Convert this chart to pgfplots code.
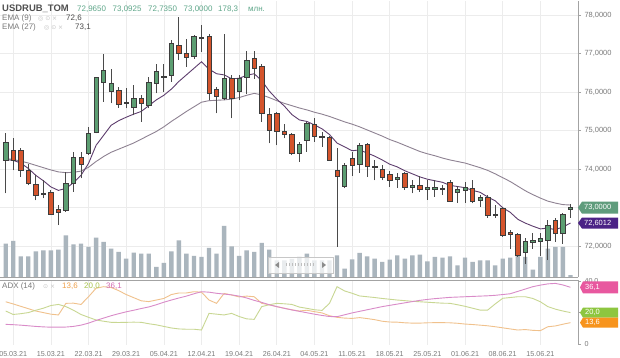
\documentclass[border=0pt]{standalone}
\usepackage{pgfplots}
\pgfplotsset{compat=1.18}
\usepackage{pgfplotstable}
\usepackage{fontspec}
\setmainfont{Liberation Sans}
\newfontfamily\symf{DejaVu Sans}

\definecolor{gridc}{HTML}{ECECEC}
\definecolor{axisc}{HTML}{A3A3A3}
\definecolor{tickc}{HTML}{7A7A7A}
\definecolor{upg}{HTML}{5C9E72}
\definecolor{dnr}{HTML}{D4542C}
\definecolor{outc}{HTML}{3C3C3C}
\definecolor{wickc}{HTML}{4A4A4A}
\definecolor{emaA}{HTML}{5E3E6E}
\definecolor{emaB}{HTML}{8E8292}
\definecolor{volc}{HTML}{AAB5BD}
\definecolor{boxg}{HTML}{5F9C7C}
\definecolor{boxp}{HTML}{4B2386}
\definecolor{adxc}{HTML}{D98BC8}
\definecolor{mdic}{HTML}{C8D792}
\definecolor{pdic}{HTML}{F0C18C}
\definecolor{adxL}{HTML}{D36BB3}
\definecolor{mdiL}{HTML}{A9C44E}
\definecolor{pdiL}{HTML}{EFA04A}
\definecolor{boxpink}{HTML}{E8589F}
\definecolor{boxgreen}{HTML}{8DC63F}
\definecolor{boxorange}{HTML}{F7941D}
\definecolor{titlec}{HTML}{505050}
\definecolor{valc}{HTML}{5FA78A}
\definecolor{iconc}{HTML}{C4C4C4}

\pgfdeclareplotmark{candle}{%
  \pgfscope
  \pgfkeys{/pgf/fpu=false}%
  \pgfmathsetmacro\cBody{38.5*(\candC-\candO)}%
  \pgfmathsetmacro\cLow{38.5*(\candL-\candO)}%
  \pgfmathsetmacro\cHigh{38.5*(\candH-\candO)}%
  \pgfsetstrokecolor{wickc}\pgfsetlinewidth{0.9bp}%
  \pgfpathmoveto{\pgfpoint{0bp}{\cLow bp}}%
  \pgfpathlineto{\pgfpoint{0bp}{\cHigh bp}}%
  \pgfusepathqstroke
  \pgfmathparse{\candC<\candO}%
  \ifdim\pgfmathresult pt>0.5pt\pgfsetfillcolor{dnr}\else\pgfsetfillcolor{upg}\fi
  \pgfsetstrokecolor{outc}\pgfsetlinewidth{0.6bp}%
  \pgfpathrectangle{\pgfpoint{-2.2bp}{0bp}}{\pgfpoint{4.4bp}{\cBody bp}}%
  \pgfusepathqfillstroke
  \endpgfscope
}

\pgfplotstableread{
i o h l c v e9 e27 adx pdi mdi
0 74.23 74.93 73.37 74.71 3330 74.25 74.28 12.5 26.9 21.0
1 74.49 74.80 73.97 74.22 3600 74.23 74.25 12.3 25.5 18.8
2 74.49 74.54 73.80 73.96 2070 74.16 74.21 12.0 24.0 19.3
3 73.97 74.13 73.58 73.63 2070 74.02 74.16 11.6 22.5 20.0
4 73.61 73.84 73.19 73.31 2570 73.84 74.10 11.2 21.0 21.5
5 73.37 73.71 73.24 73.34 2670 73.70 74.04 10.9 20.0 22.8
6 73.39 73.45 72.81 72.82 2670 73.54 73.98 10.7 19.0 24.5
7 72.95 73.06 72.55 72.87 2730 73.45 73.93 10.7 18.5 25.2
8 72.94 73.93 72.89 73.63 4170 73.50 73.91 10.8 25.9 23.8
9 73.63 74.45 73.41 74.30 3270 73.65 73.92 11.2 26.0 21.5
10 74.30 74.45 73.76 74.13 3330 73.84 73.95 12.0 25.2 18.8
11 74.41 75.10 74.38 74.94 3000 74.15 74.05 13.3 30.1 17.0
12 74.97 76.40 74.93 76.38 3930 74.62 74.20 15.0 35.5 15.3
13 76.27 77.00 75.75 76.57 3500 74.88 74.33 16.5 36.5 14.5
14 76.03 76.61 75.71 76.23 2830 75.14 74.44 18.0 36.0 13.8
15 76.05 76.14 75.60 75.69 2500 75.26 74.52 19.3 34.0 13.7
16 75.75 76.10 75.58 75.71 1830 75.35 74.60 20.5 31.5 13.8
17 75.60 76.18 75.40 75.83 2430 75.43 74.68 21.5 29.5 13.9
18 75.83 75.92 75.23 75.72 2330 75.50 74.78 22.6 27.5 13.8
19 75.66 76.40 75.58 76.27 2330 75.65 74.88 23.6 27.0 12.9
20 76.23 76.74 75.97 76.55 1000 75.80 74.98 25.0 28.0 12.2
21 76.38 76.74 76.01 76.41 1400 75.92 75.10 26.6 29.0 11.2
22 76.44 77.35 76.27 77.28 2570 76.08 75.24 28.0 31.5 10.2
23 77.22 77.96 76.83 77.00 3670 76.28 75.37 29.3 32.5 9.6
24 77.00 77.39 76.66 76.90 2330 76.45 75.50 30.5 32.5 9.4
25 76.92 77.48 76.87 77.44 2100 76.62 75.62 32.0 33.3 9.4
26 77.39 77.74 77.05 77.42 2000 76.79 75.74 33.3 33.0 8.9
27 77.45 77.52 75.79 75.97 2900 76.60 75.78 33.0 28.0 19.5
28 76.07 76.14 75.45 75.90 2330 76.48 75.79 32.3 25.9 19.0
29 75.84 77.52 75.79 76.35 5100 76.45 75.80 31.8 32.2 18.5
30 76.35 76.44 75.32 75.84 3070 76.35 75.82 31.3 31.2 19.5
31 76.03 76.44 75.79 76.35 2100 76.36 75.86 30.5 30.0 17.5
32 76.38 77.07 75.95 76.83 2670 76.44 75.92 29.3 30.5 16.0
33 76.87 77.07 76.35 76.61 2500 76.48 75.97 27.8 30.1 15.7
34 76.68 76.74 75.23 75.45 3400 76.30 75.93 26.5 25.9 23.8
35 75.43 75.58 74.67 75.01 2730 76.03 75.86 25.0 25.0 25.0
36 75.46 75.49 74.62 74.99 1670 75.82 75.78 23.8 23.8 25.9
37 74.99 75.17 74.80 74.91 1670 75.64 75.71 22.7 22.8 25.6
38 74.91 74.93 74.36 74.41 1800 75.42 75.65 21.7 21.8 25.2
39 74.42 74.71 74.19 74.65 2000 75.28 75.59 20.8 21.0 23.5
40 74.75 75.23 74.45 75.20 2330 75.24 75.54 19.9 21.5 22.7
41 75.17 75.34 74.71 74.86 1670 75.15 75.48 19.0 20.6 21.8
42 74.86 74.97 74.58 74.82 1670 75.05 75.43 18.2 19.8 21.4
43 74.84 74.86 74.22 74.23 1670 74.90 75.37 17.5 18.0 25.9
44 73.97 74.54 71.98 73.82 2170 74.68 75.30 17.4 17.0 36.5
45 73.56 74.16 73.50 74.10 830 74.58 75.23 18.6 16.5 33.8
46 74.28 74.45 73.82 74.10 1770 74.48 75.17 19.8 16.3 32.3
47 74.13 74.67 73.91 74.62 2400 74.50 75.10 20.8 16.8 30.6
48 74.65 74.67 73.80 74.08 2070 74.42 75.02 21.8 16.2 30.1
49 74.08 74.23 73.71 74.04 1830 74.34 74.94 22.8 15.5 29.6
50 73.99 74.10 73.71 73.80 1500 74.24 74.86 23.8 14.5 29.0
51 73.86 73.96 73.54 73.71 1730 74.13 74.77 24.6 14.0 28.5
52 73.73 73.89 73.52 73.80 2170 74.06 74.70 25.4 13.9 28.0
53 73.89 73.93 73.46 73.52 1830 73.96 74.62 26.2 13.5 27.6
54 73.54 73.71 73.37 73.58 2170 73.88 74.54 27.0 13.3 27.2
55 73.58 73.82 73.41 73.47 2230 73.80 74.46 27.8 13.3 26.9
56 73.49 73.71 73.21 73.52 1570 73.74 74.40 28.4 13.5 26.6
57 73.49 73.71 73.28 73.52 2000 73.70 74.35 28.9 13.6 26.3
58 73.47 73.58 73.33 73.50 1930 73.66 74.29 29.3 13.6 26.0
59 73.67 73.71 73.15 73.17 2070 73.58 74.24 29.7 13.5 25.9
60 73.39 73.56 73.13 73.47 1170 73.55 74.20 29.9 13.2 25.0
61 73.45 73.67 73.13 73.52 1930 73.52 74.16 30.1 12.7 24.0
62 73.50 73.71 73.11 73.17 1500 73.45 74.10 30.3 12.4 22.8
63 73.20 73.32 73.02 73.26 1670 73.40 74.04 30.5 12.0 21.6
64 73.26 73.32 72.74 72.80 1670 73.28 73.97 30.7 11.6 21.6
65 72.82 73.07 72.74 72.79 1170 73.18 73.88 31.0 11.0 25.5
66 72.98 73.02 72.24 72.29 1830 73.00 73.78 31.5 10.3 29.1
67 72.35 72.42 71.94 72.31 1930 72.88 73.68 32.0 9.6 29.6
68 72.31 72.33 71.72 71.77 2500 72.70 73.56 33.5 8.9 30.1
69 71.83 72.20 71.55 72.14 2000 72.60 73.44 35.0 9.2 30.1
70 72.11 72.35 71.94 72.16 730 72.52 73.34 36.5 8.7 29.0
71 72.14 72.33 71.74 72.20 2000 72.45 73.25 37.5 8.5 26.9
72 72.16 72.68 71.64 72.55 2830 72.47 73.17 38.3 11.0 23.8
73 72.68 72.72 72.11 72.33 3000 72.43 73.12 38.6 11.5 22.2
74 72.33 72.87 72.07 72.83 3000 72.50 73.08 37.6 12.6 21.0
75 72.965 73.0925 72.735 73.00 178 72.60 73.07 36.1 13.6 20.0
}\data

\begin{document}
\begin{tikzpicture}
\useasboundingbox (0,0) rectangle (620bp,358bp);
\fill[white] (0,0) rectangle (620bp,358bp);

% price grid and right scale
\begin{axis}[at={(0,81bp)}, anchor=south west, scale only axis,
  width=578bp, height=276bp,
  xmin=-0.757, xmax=76, ymin=71.2, ymax=78.3688,
  axis x line*=bottom, axis y line*=right,
  axis line style={draw=axisc, line width=0.8bp},
  xtick={1,6,...,71}, xticklabels={}, xtick style={draw=none},
  ytick={72,73,...,78}, ytick style={draw=axisc, line width=0.6bp},
  tick align=outside, major tick length=3bp,
  grid=major, grid style={draw=gridc, line width=0.6bp},
  yticklabel style={font=\fontsize{7.5}{8}\selectfont, text=tickc,
    /pgf/number format/fixed, /pgf/number format/fixed zerofill,
    /pgf/number format/precision=4, /pgf/number format/use comma,
    /pgf/number format/assume math mode=true},
]
\addplot[draw=none] coordinates {(0,72)};
\end{axis}

% volume
\begin{axis}[at={(0,81bp)}, anchor=south west, scale only axis,
  width=578bp, height=276bp,
  xmin=-0.757, xmax=76, ymin=0, ymax=27600, hide axis]
\addplot[ybar, bar width=4.4bp, fill=volc, draw=none] table[x=i, y=v] {\data};
\end{axis}

% candles and EMAs
\begin{axis}[at={(0,81bp)}, anchor=south west, scale only axis,
  width=578bp, height=276bp,
  xmin=-0.757, xmax=76, ymin=71.2, ymax=78.3688, hide axis, clip=false]
\addplot[emaB, line width=0.9bp] table[x=i, y=e27] {\data};
\addplot[emaA, line width=0.9bp] table[x=i, y=e9] {\data};
\addplot[only marks, mark=candle,
  visualization depends on={\thisrow{o} \as \candO},
  visualization depends on={\thisrow{c} \as \candC},
  visualization depends on={\thisrow{h} \as \candH},
  visualization depends on={\thisrow{l} \as \candL}]
  table[x=i, y=o] {\data};
\coordinate (bg) at (axis cs:76,73.0);
\coordinate (bp) at (axis cs:76,72.6012);
\end{axis}

% ADX panel
\begin{axis}[at={(0,13bp)}, anchor=south west, scale only axis,
  width=578bp, height=65bp,
  xmin=-0.757, xmax=76, ymin=-0.637, ymax=40.76,
  axis x line*=bottom, axis y line*=right,
  x axis line style={draw=none}, y axis line style={draw=axisc, line width=0.8bp},
  xtick={1,6,...,71},
  xticklabels={05.03.21,15.03.21,22.03.21,29.03.21,05.04.21,12.04.21,19.04.21,26.04.21,04.05.21,11.05.21,18.05.21,25.05.21,01.06.21,08.06.21,15.06.21},
  xtick style={draw=none},
  ytick={0,20,40}, yticklabels={0,{20,0},{40,0}},
  ytick style={draw=axisc, line width=0.6bp},
  tick align=outside, major tick length=3bp,
  xmajorgrids, grid style={draw=gridc, line width=0.6bp},
  tick label style={font=\fontsize{7.2}{8}\selectfont, text=tickc},
  clip=false]
\draw[axisc, line width=0.8bp] (rel axis cs:0,1) -- (rel axis cs:1,1);
\addplot[pdic, line width=0.9bp] table[x=i, y=pdi] {\data};
\addplot[mdic, line width=0.9bp] table[x=i, y=mdi] {\data};
\addplot[adxc, line width=0.9bp] table[x=i, y=adx] {\data};
\coordinate (ba) at (axis cs:76,36.1);
\coordinate (bm) at (axis cs:76,20.0);
\coordinate (bo) at (axis cs:76,13.6);
\end{axis}

% price boxes
\fill[boxg] (bg) -- ++(4bp,6bp) -- ++(36bp,0) -- ++(0,-12bp) -- ++(-36bp,0) -- cycle;
\node[anchor=west, text=white, font=\fontsize{7.5}{8}\selectfont, inner sep=0] at ([xshift=6bp]bg) {73,0000};
\fill[boxp] (bp) -- ++(4bp,5.5bp) -- ++(36bp,0) -- ++(0,-11bp) -- ++(-36bp,0) -- cycle;
\node[anchor=west, text=white, font=\fontsize{7.5}{8}\selectfont, inner sep=0] at ([xshift=6bp]bp) {72,6012};

% ADX boxes
\fill[boxgreen] ([xshift=2bp]bm) -- ++(3bp,5bp) -- ++(35bp,0) -- ++(0,-10bp) -- ++(-35bp,0) -- cycle;
\node[anchor=west, text=white, font=\fontsize{7.5}{8}\selectfont, inner sep=0] at ([xshift=7bp]bm) {20,0};
\fill[boxorange] ([xshift=2bp]bo) -- ++(3bp,5bp) -- ++(35bp,0) -- ++(0,-10bp) -- ++(-35bp,0) -- cycle;
\node[anchor=west, text=white, font=\fontsize{7.5}{8}\selectfont, inner sep=0] at ([xshift=7bp]bo) {13,6};
\fill[boxpink] ([xshift=2bp]ba) -- ++(3bp,6bp) -- ++(35bp,0) -- ++(0,-12bp) -- ++(-35bp,0) -- cycle;
\node[anchor=west, text=white, font=\fontsize{7.5}{8}\selectfont, inner sep=0] at ([xshift=7bp]ba) {36,1};

% scroller widget
\draw[draw=black!22, fill=white, fill opacity=0.75, line width=0.5bp] (268bp,85bp) rectangle (333bp,101bp);
\fill[black!45] (279bp,90bp) -- (279bp,96bp) -- (275bp,93bp) -- cycle;
\fill[black!45] (322bp,90bp) -- (322bp,96bp) -- (326bp,93bp) -- cycle;
\foreach \x in {286,289,...,313} {\fill[black!25] (\x bp,91.5bp) rectangle ++(1.2bp,3bp);}

% header
\node[anchor=west, font=\bfseries\fontsize{9.5}{10}\selectfont, text=titlec, inner sep=0] at (2bp,349bp) {USDRUB\_TOM};
\node[anchor=west, font=\fontsize{8}{9}\selectfont, text=valc, inner sep=0] at (77bp,349bp) {72,9650};
\node[anchor=west, font=\fontsize{8}{9}\selectfont, text=valc, inner sep=0] at (112.5bp,349bp) {73,0925};
\node[anchor=west, font=\fontsize{8}{9}\selectfont, text=valc, inner sep=0] at (148bp,349bp) {72,7350};
\node[anchor=west, font=\fontsize{8}{9}\selectfont, text=valc, inner sep=0] at (183.5bp,349bp) {73,0000};
\node[anchor=west, font=\fontsize{8}{9}\selectfont, text=valc, inner sep=0] at (218bp,349bp) {178,3};
\node[anchor=west, font=\fontsize{8}{9}\selectfont, text=valc, inner sep=0] at (248bp,349bp) {млн.};

\node[anchor=west, font=\fontsize{8}{9}\selectfont, text=tickc, inner sep=0] at (2bp,339.5bp) {EMA (9)};
\node[anchor=west, font=\symf\fontsize{6}{7}\selectfont, text=iconc, inner sep=0] at (38bp,339.5bp) {◎\ ⊙\ ×};
\node[anchor=west, font=\fontsize{8}{9}\selectfont, text=black!70, inner sep=0] at (66bp,339.5bp) {72,6};
\node[anchor=west, font=\fontsize{8}{9}\selectfont, text=tickc, inner sep=0] at (2bp,330.5bp) {EMA (27)};
\node[anchor=west, font=\symf\fontsize{6}{7}\selectfont, text=iconc, inner sep=0] at (44bp,330.5bp) {◎\ ⊙\ ×};
\node[anchor=west, font=\fontsize{8}{9}\selectfont, text=black!70, inner sep=0] at (75bp,330.5bp) {73,1};

% ADX legend
\node[anchor=west, font=\fontsize{8}{9}\selectfont, text=tickc, inner sep=0] at (2bp,71.3bp) {ADX (14)};
\node[anchor=west, font=\symf\fontsize{6}{7}\selectfont, text=iconc, inner sep=0] at (43bp,71.3bp) {⊙\ ×};
\node[anchor=west, font=\fontsize{8}{9}\selectfont, text=pdiL, inner sep=0] at (62bp,71.3bp) {13,6};
\node[anchor=west, font=\fontsize{8}{9}\selectfont, text=mdiL, inner sep=0] at (84bp,71.3bp) {20,0};
\node[anchor=west, font=\fontsize{8}{9}\selectfont, text=adxL, inner sep=0] at (106bp,71.3bp) {36,1};
\end{tikzpicture}
\end{document}
